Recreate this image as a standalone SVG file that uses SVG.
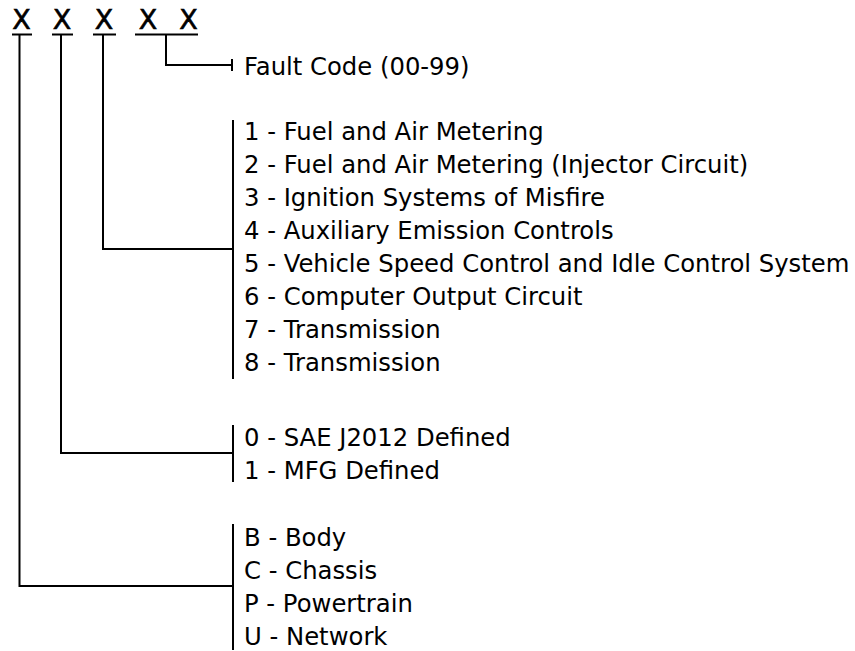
<svg xmlns="http://www.w3.org/2000/svg" width="855" height="651" viewBox="0 0 855 651">
<style>
.t{font-family:"DejaVu Sans",Verdana,sans-serif;font-size:24.3px;fill:#000}
.x{font-family:"DejaVu Sans",Verdana,sans-serif;font-size:27px;fill:#000;stroke:#000;stroke-width:0.6;text-anchor:middle}
.l{stroke:#000;stroke-width:2;fill:none}
</style>
<rect width="855" height="651" fill="#fff"/>
<g id="code">
<text class="x" x="21.5" y="29">X</text>
<text class="x" x="62" y="29">X</text>
<text class="x" x="104" y="29">X</text>
<text class="x" x="148" y="29">X</text>
<text class="x" x="188.5" y="29">X</text>
<path class="l" d="M12 34.5H32M52 34.5H73M93 34.5H116M135 34.5H198"/>
</g>
<g id="connectors">
<path class="l" d="M166 34V65H232M232 59V71"/>
<path class="l" d="M103 34V249H233M233 120V379"/>
<path class="l" d="M61 34V453H233M233 425V482"/>
<path class="l" d="M19.5 34V586H233M233 524V650"/>
</g>
<g id="fault">
<text class="t" x="244" y="74.5">Fault Code (00-99)</text>
</g>
<g id="system">
<text class="t" x="244" y="139.5">1 - Fuel and Air Metering</text>
<text class="t" x="244" y="172.5">2 - Fuel and Air Metering (Injector Circuit)</text>
<text class="t" x="244" y="205.5">3 - Ignition Systems of Misfire</text>
<text class="t" x="244" y="238.5">4 - Auxiliary Emission Controls</text>
<text class="t" x="244" y="271.5">5 - Vehicle Speed Control and Idle Control System</text>
<text class="t" x="244" y="304.5">6 - Computer Output Circuit</text>
<text class="t" x="244" y="337.5">7 - Transmission</text>
<text class="t" x="244" y="370.5">8 - Transmission</text>
</g>
<g id="type">
<text class="t" x="244" y="445.5">0 - SAE J2012 Defined</text>
<text class="t" x="244" y="478.5">1 - MFG Defined</text>
</g>
<g id="area">
<text class="t" x="244" y="545.5">B - Body</text>
<text class="t" x="244" y="578.5">C - Chassis</text>
<text class="t" x="244" y="611.5">P - Powertrain</text>
<text class="t" x="244" y="644.5">U - Network</text>
</g>
</svg>
